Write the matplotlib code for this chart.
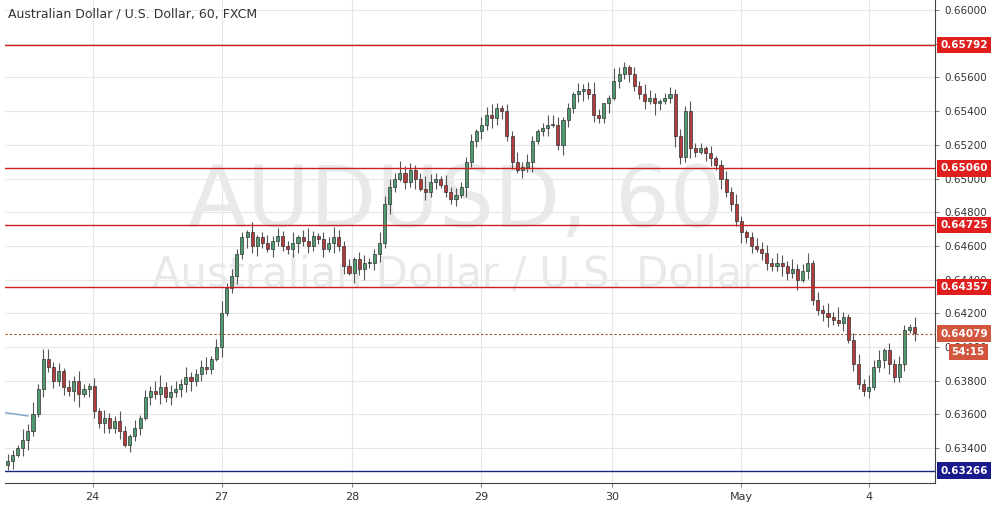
import matplotlib.pyplot as plt
from matplotlib.patches import Rectangle

# ---- DATA (closes in pips above 0.6300) ----
close_pips = [32, 36, 40, 45, 50, 60, 75, 93, 88, 80, 86, 76, 74, 80, 72, 75, 77, 62, 55,
              58, 52, 56, 50, 42, 47, 52, 58, 70, 74, 72, 76, 70, 73, 75,
              78, 82, 80, 84, 88, 87, 93, 100, 120, 135, 142, 155, 165,
              168, 160, 165, 162, 158, 163, 166, 160, 158, 162,
              165, 163, 160, 166, 164, 158, 162, 165, 160,
              148, 144, 152, 146, 150, 150, 155, 162, 185, 195, 200,
              203, 198, 205, 200, 194, 192, 198, 200, 196, 192, 188, 190,
              195, 210, 222, 228, 232, 238, 236, 242, 240, 225, 210, 205,
              207, 210, 222, 228, 230, 232, 232, 220, 235, 242, 250, 252,
              253, 250, 238, 236, 245, 248, 258, 262, 266, 262,
              255, 250, 246, 248, 245, 246, 248, 250, 225, 213, 240, 218,
              216, 218, 215, 212, 208, 200, 192, 185, 175, 168, 165, 160,
              158, 156, 150, 148, 150, 148, 144, 146, 140, 145,
              150, 128, 122, 120, 118, 116, 114, 118, 104, 90, 78, 74, 76, 88,
              92, 98, 90, 82, 90, 110, 112, 108]
upper_wick = ("3214352442313242131322421313245"
              "2332422341352322141232322413521"
              "3243231332243325332253214232231"
              "3342132423212443121323520153213"
              "2432123232422131232421233324324"
              "23413242521342534132")
lower_wick = ("2313421323232451332422313231324"
              "2323342322141232434213222342322"
              "3142314242332421324132312231422"
              "3243323132412312432342322413232"
              "2315312432421332423242313322432"
              "41322342131322312342")
day_labels = ["24", "27", "28", "29", "30", "May", "4"]
day_index = [16.7, 42, 67.6, 93, 118.6, 144, 169]
levels = [0.65792, 0.65060, 0.64725, 0.64357]
current = 0.64079
blue_level = 0.63266

closes = [0.63 + p / 10000 for p in close_pips]
opens = [0.6330] + closes[:-1]
up_green, down_red = "#4f9a6e", "#b23b3b"

fig = plt.figure(figsize=(10.04, 5.14), dpi=100)
ax = fig.add_axes([5 / 1004, 31 / 514, 930 / 1004, 483 / 514])
ax.set_xlim(-0.5, 182)
ax.set_ylim(0.63192, 0.66060)

for y in [0.634 + 0.002 * k for k in range(14)]:
    ax.axhline(y, color="#e6e6e6", lw=0.8, zorder=0)
for d in day_index:
    ax.axvline(d, color="#e6e6e6", lw=0.8, zorder=0)

ax.text(88, 0.6485, "AUDUSD, 60", fontsize=62, color="#e9e9e9", ha="center", va="center", zorder=0)
ax.text(88, 0.6443, "Australian Dollar / U.S. Dollar", fontsize=30, color="#e9e9e9",
        ha="center", va="center", zorder=0)

for i, c in enumerate(closes):
    o = opens[i]
    hi = max(o, c) + 1.5 * int(upper_wick[i % len(upper_wick)]) / 10000
    lo = min(o, c) - 1.5 * int(lower_wick[i % len(lower_wick)]) / 10000
    col = up_green if c >= o else down_red
    ax.vlines(i, lo, hi, color="#555555", lw=0.8, zorder=2)
    h = max(abs(c - o), 0.00005)
    ax.add_patch(Rectangle((i - 0.3, min(o, c)), 0.6, h, facecolor=col,
                           edgecolor="#333333", lw=0.5, zorder=3))

for lv in levels:
    ax.axhline(lv, color="#cc1f1f", lw=1.0, zorder=4)
ax.axhline(current, color="#a0522d", lw=0.8, ls=(0, (2, 2)), zorder=4)
ax.axhline(blue_level, color="#1a237e", lw=1.0, zorder=4)
ax.plot([-0.5, 4], [0.6361, 0.6359], color="#7da0c8", lw=1, zorder=1)

ax.yaxis.tick_right()
ax.set_yticks([0.634 + 0.002 * k for k in range(14)])
ax.set_yticklabels([f"{0.634 + 0.002 * k:.5f}" for k in range(14)], fontsize=7.5, color="#333333")
ax.set_xticks(day_index)
ax.set_xticklabels(day_labels, fontsize=8, color="#333333")
ax.tick_params(length=3, color="#888888")
for s in ["top", "left"]:
    ax.spines[s].set_visible(False)
ax.spines["right"].set_color("#444444")
ax.spines["bottom"].set_color("#444444")

def price_tag(value, text, color, dx=4):
    ax.annotate(text, xy=(1.0, value), xycoords=("axes fraction", "data"),
                xytext=(dx, 0), textcoords="offset points", va="center", fontsize=7.5,
                color="white", weight="bold", zorder=10, annotation_clip=False,
                bbox=dict(boxstyle="square,pad=0.3", fc=color, ec="none"))

for lv in levels:
    price_tag(lv, f"{lv:.5f}", "#e01e1e")
price_tag(current, f"{current:.5f}", "#d2553e")
price_tag(current - 0.0011, "54:15", "#d2553e", dx=12)
price_tag(blue_level, f"{blue_level:.5f}", "#1a1a8c")

fig.text(8 / 1004, 1 - 14 / 514, "Australian Dollar / U.S. Dollar, 60, FXCM", fontsize=9,
         color="#333333", va="center")
fig.savefig("out.png", dpi=100)
